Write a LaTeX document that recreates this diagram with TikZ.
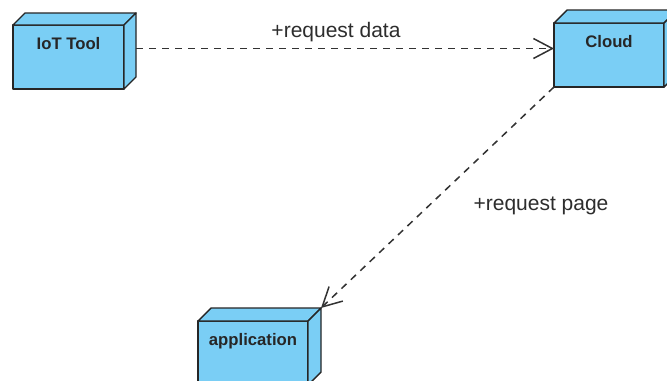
\documentclass[tikz,border=0pt]{standalone}
\usepackage{fontspec}
\setmainfont{Liberation Sans}
\usetikzlibrary{arrows.meta}
\definecolor{nodefill}{RGB}{122,206,245}
\definecolor{edgegray}{RGB}{50,50,50}
\definecolor{labelgray}{RGB}{45,45,45}
\tikzset{
  facestyle/.style={fill=nodefill, draw=black!85, line width=1.4bp, line join=round},
  boxlabel/.style={font=\fontsize{16.7bp}{20bp}\selectfont\bfseries, text=black!85, inner sep=0, anchor=base},
  edgelabel/.style={font=\fontsize{21bp}{25bp}\selectfont, text=labelgray, inner sep=0, anchor=base},
  depline/.style={draw=edgegray, line width=1.5bp, dash pattern=on 7bp off 6bp,
    -{Straight Barb[length=19bp,width=20bp]}},
  boxarea/.style={inner sep=0, outer sep=0, anchor=north west}
}
% #1 name, #2 front-left x, #3 front-top y, #4 width, #5 height, #6 depth, #7 label
\newcommand\devicebox[7]{%
  \pgfmathsetmacro\dbw{#4+#6}%
  \pgfmathsetmacro\dbh{#5+#6}%
  \filldraw[facestyle] (#2,#3) rectangle ++(#4,#5);
  \filldraw[facestyle] (#2,#3) -- ++(#6,-#6) -- ++(#4,0) -- ++(-#6,#6) -- cycle;
  \filldraw[facestyle] (#2+#4,#3) -- ++(#6,-#6) -- ++(0,#5) -- ++(-#6,#6) -- cycle;
  \node[boxlabel] (#1-label) at (#2+#4/2,#3+24.5) {#7};
  \node[boxarea, minimum width=\dbw bp, minimum height=\dbh bp] (#1) at (#2,#3-#6) {};
}
\begin{document}
\begin{tikzpicture}[x=1bp,y=-1bp]
  \useasboundingbox (0,0) rectangle (667,380);
  \fill[white] (0,0) rectangle (667,380);
  \clip (0,0) rectangle (667,380);
  \devicebox{iot}{13}{25}{111}{64}{12}{IoT Tool}
  \devicebox{cloud}{554}{23}{110}{64}{13}{Cloud}
  \devicebox{app}{198}{321}{110}{64}{13}{application}
  \draw[depline] (cloud.west -| iot.east) -- (cloud.west);
  \draw[depline] (cloud.south west) -- (app.north east);
  \node[edgelabel] (lbldata) at (336,37) {+request data};
  \node[edgelabel] (lblpage) at (541,210) {+request page};
\end{tikzpicture}
\end{document}
